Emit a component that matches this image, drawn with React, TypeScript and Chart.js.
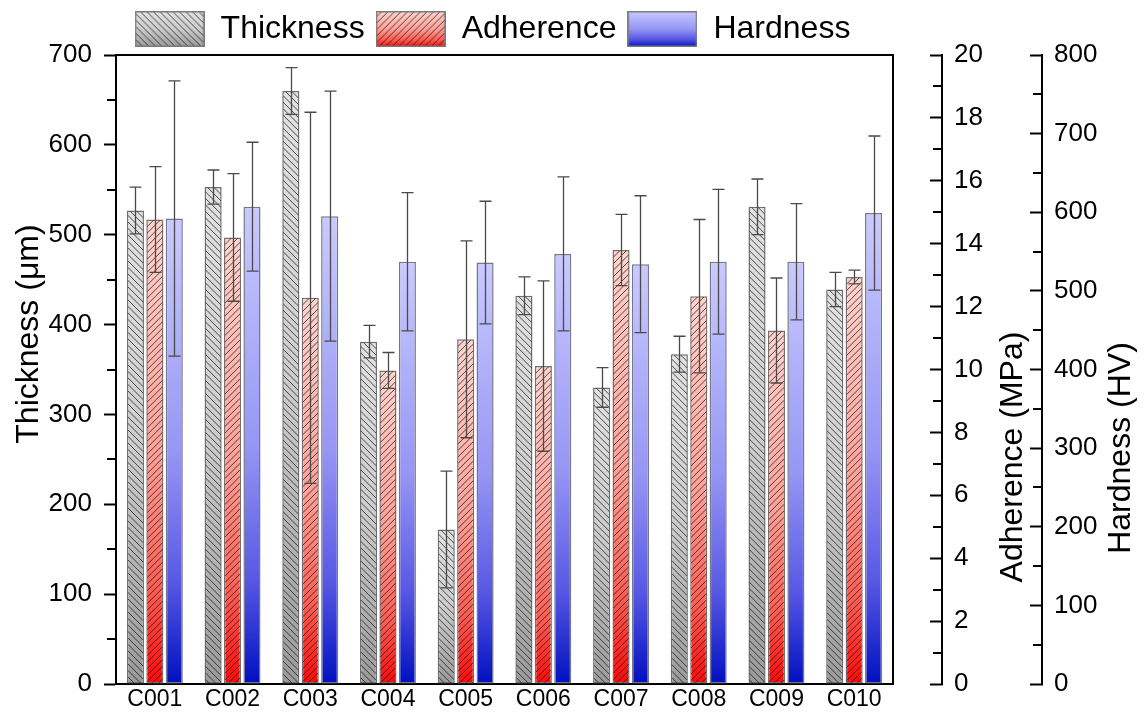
import React, { useEffect, useRef } from 'react';
import { Chart, registerables } from 'chart.js';

Chart.register(...registerables);

// ---------------- data ----------------
const categories = ['C001', 'C002', 'C003', 'C004', 'C005', 'C006', 'C007', 'C008', 'C009', 'C010'];
const thickness = [527, 553, 660, 381, 172, 432, 330, 367, 531, 439];
const thicknessErr = [26, 19, 26, 18, 65, 21, 22, 20, 31, 19];
const adherence = [14.77, 14.2, 12.28, 9.97, 10.96, 10.11, 13.8, 12.33, 11.24, 12.94];
const adherenceErr = [1.68, 2.03, 5.9, 0.57, 3.13, 2.71, 1.13, 2.44, 1.67, 0.22];
const hardness = [592, 607, 595, 537, 536, 547, 534, 537, 537, 599];
const hardnessErr = [175, 82, 159, 88, 78, 98, 87, 92, 74, 98];

const seriesLabels = ['Thickness', 'Adherence', 'Hardness'];
const axisTitles = ['Thickness (\u03bcm)', 'Adherence (MPa)', 'Hardness (HV)'];
const thicknessRange = [0, 700, 100];
const adherenceRange = [0, 20, 2];
const hardnessRange = [0, 800, 100];

// ---------------- styles ----------------
const FONT = "'Liberation Sans', Arial, sans-serif";
const grayStops: [number, string][] = [[0, '#e2e2e2'], [0.5, '#cdcdcd'], [1, '#9a9a9a']];
const redStops: [number, string][] = [[0, '#ffd4ce'], [0.5, '#ffa198'], [0.8, '#ff5c52'], [1, '#ff0808']];
const blueStops: [number, string][] = [[0, '#cacaff'], [0.5, '#9696f4'], [0.78, '#5858e4'], [1, '#0010c0']];

function hatch(ctx: CanvasRenderingContext2D, x0: number, y0: number, w: number, h: number, dir: number) {
  const sp = 6.5;
  ctx.save();
  ctx.beginPath();
  ctx.rect(x0, y0, w, h);
  ctx.clip();
  ctx.strokeStyle = 'rgba(25,25,25,0.85)';
  ctx.lineWidth = 0.9;
  ctx.beginPath();
  for (let k = -w - sp; k < h + sp; k += sp) {
    if (dir > 0) {
      ctx.moveTo(x0, y0 + k);
      ctx.lineTo(x0 + w, y0 + k + w);
    } else {
      ctx.moveTo(x0, y0 + k + w);
      ctx.lineTo(x0 + w, y0 + k);
    }
  }
  ctx.stroke();
  ctx.restore();
}

function swatch(stops: [number, string][], dir: number) {
  const c = document.createElement('canvas');
  c.width = 70;
  c.height = 36;
  const x = c.getContext('2d')!;
  const g = x.createLinearGradient(0, 0, 0, 36);
  stops.forEach(([o, col]) => g.addColorStop(o, col));
  x.fillStyle = g;
  x.fillRect(0, 0, 70, 36);
  if (dir) hatch(x, 0, 0, 70, 36, dir);
  x.strokeStyle = '#7a7a7a';
  x.lineWidth = 1.5;
  x.strokeRect(0.75, 0.75, 68.5, 34.5);
  return c;
}

const gradFill = (stops: [number, string][], axis: string) => (c: any) => {
  const chart = c.chart;
  if (c.type !== 'data' || !chart.chartArea) return stops[0][1];
  const sc = chart.scales[axis];
  const v = c.parsed ? c.parsed.y : c.raw;
  const top = sc.getPixelForValue(v);
  const base = sc.getPixelForValue(0);
  const g = chart.ctx.createLinearGradient(0, top, 0, base);
  stops.forEach(([o, col]) => g.addColorStop(o, col));
  return g;
};

const errors = [thicknessErr, adherenceErr, hardnessErr];
const hatchDirs = [1, -1, 0];

const barPlugin = {
  id: 'barExtras',
  afterLayout(chart: any) {
    if (chart.legend) {
      chart.legend.left -= 12;
      chart.legend.right -= 12;
    }
  },
  afterDatasetDraw(chart: any, args: any) {
    const i = args.index;
    const dir = hatchDirs[i];
    if (!dir) return;
    const ctx = chart.ctx;
    const meta = chart.getDatasetMeta(i);
    meta.data.forEach((el: any) => {
      const { x, y, base, width } = el.getProps(['x', 'y', 'base', 'width'], true);
      hatch(ctx, x - width / 2 + 0.75, y + 0.75, width - 1.5, base - y - 1.5, dir);
    });
  },
  afterDatasetsDraw(chart: any) {
    const ctx = chart.ctx;
    ctx.save();
    ctx.strokeStyle = '#4a4a4a';
    ctx.lineWidth = 1.3;
    chart.data.datasets.forEach((ds: any, i: number) => {
      const meta = chart.getDatasetMeta(i);
      const sc = chart.scales[ds.yAxisID];
      meta.data.forEach((el: any, j: number) => {
        const v = ds.data[j];
        const e = errors[i][j];
        const x = Math.round(el.x) + 0.5;
        const yt = sc.getPixelForValue(v + e);
        const yb = sc.getPixelForValue(v - e);
        ctx.beginPath();
        ctx.moveTo(x, yt);
        ctx.lineTo(x, yb);
        ctx.moveTo(x - 6, yt);
        ctx.lineTo(x + 6, yt);
        ctx.moveTo(x - 6, yb);
        ctx.lineTo(x + 6, yb);
        ctx.stroke();
      });
    });
    ctx.restore();
  },
  afterDraw(chart: any) {
    const ctx = chart.ctx;
    const a = chart.chartArea;
    ctx.save();
    // frame top & right
    ctx.strokeStyle = '#000';
    ctx.lineWidth = 2;
    ctx.beginPath();
    ctx.moveTo(a.left, a.top);
    ctx.lineTo(a.right, a.top);
    ctx.lineTo(a.right, a.bottom);
    ctx.stroke();
    // minor ticks
    const minor = (sc: any, step: number, x0: number) => {
      ctx.beginPath();
      for (let v = sc.min + step / 2; v < sc.max; v += step) {
        const y = Math.round(sc.getPixelForValue(v));
        ctx.moveTo(x0, y);
        ctx.lineTo(x0 - 9, y);
      }
      ctx.stroke();
    };
    minor(chart.scales.y, thicknessRange[2], a.left);
    minor(chart.scales.y1, adherenceRange[2], chart.scales.y1.left);
    minor(chart.scales.y2, hardnessRange[2], chart.scales.y2.left);
    // axis titles
    ctx.fillStyle = '#000';
    ctx.font = `32px ${FONT}`;
    ctx.textAlign = 'center';
    ctx.textBaseline = 'middle';
    const title = (t: string, x: number, y: number) => {
      ctx.save();
      ctx.translate(x, y);
      ctx.rotate(-Math.PI / 2);
      ctx.fillText(t, 0, 0);
      ctx.restore();
    };
    title(axisTitles[0], chart.scales.y.left + 29, 334);
    title(axisTitles[1], chart.scales.y1.left + 71, 457);
    title(axisTitles[2], chart.scales.y2.left + 79, 448);
    ctx.restore();
  },
};

export default function App() {
  const ref = useRef<HTMLCanvasElement>(null);
  useEffect(() => {
    document.body.style.margin = '0';
    const swatches = [swatch(grayStops, 1), swatch(redStops, -1), swatch(blueStops, 0)];
    const tickFont = { family: FONT, size: 26 };
    const noPad = (s: any) => {
      s.paddingTop = 0;
      s.paddingBottom = 0;
    };
    const rightAxis = (range: number[], weight: number) => ({
      type: 'linear',
      position: 'right',
      weight,
      min: range[0],
      max: range[1],
      afterFit: (s: any) => {
        s.width = weight === 1 ? 100 : 103;
        noPad(s);
      },
      grid: { display: true, drawOnChartArea: false, tickLength: -12, tickWidth: 2, tickColor: '#000' },
      border: { display: true, color: '#000', width: 2 },
      ticks: { stepSize: range[2], font: tickFont, color: '#000', padding: 24, autoSkip: false },
    });
    const chart = new Chart(ref.current!, {
      type: 'bar',
      data: {
        labels: categories,
        datasets: [
          {
            label: seriesLabels[0],
            data: thickness,
            yAxisID: 'y',
            backgroundColor: gradFill(grayStops, 'y'),
            borderColor: '#707070',
            borderWidth: 1.5,
            borderSkipped: false,
          },
          {
            label: seriesLabels[1],
            data: adherence,
            yAxisID: 'y1',
            backgroundColor: gradFill(redStops, 'y1'),
            borderColor: '#7a7070',
            borderWidth: 1.5,
            borderSkipped: false,
          },
          {
            label: seriesLabels[2],
            data: hardness,
            yAxisID: 'y2',
            backgroundColor: gradFill(blueStops, 'y2'),
            borderColor: '#777788',
            borderWidth: 1.5,
            borderSkipped: false,
          },
        ] as any,
      },
      options: {
        responsive: false,
        animation: false,
        devicePixelRatio: 1,
        layout: { padding: { top: 2, left: 0, right: 0, bottom: 0 } },
        datasets: { bar: { categoryPercentage: 0.75, barPercentage: 0.88 } } as any,
        plugins: {
          tooltip: { enabled: false },
          legend: {
            position: 'top',
            fullSize: false,
            labels: {
              usePointStyle: true,
              pointStyleWidth: 70,
              padding: 11,
              color: '#000',
              font: { family: FONT, size: 32 },
              generateLabels: () =>
                seriesLabels.map((t, i) => ({
                  text: t,
                  pointStyle: swatches[i] as any,
                  fillStyle: 'rgba(0,0,0,0)',
                  strokeStyle: 'rgba(0,0,0,0)',
                  lineWidth: 0,
                  hidden: false,
                  datasetIndex: i,
                  fontColor: '#000',
                })),
            },
          },
        },
        scales: {
          x: {
            type: 'category',
            afterFit: (s: any) => {
              s.height = 30;
            },
            grid: { display: false },
            border: { display: true, color: '#000', width: 2 },
            ticks: { font: { family: FONT, size: 23 }, color: '#000', padding: -6 },
          },
          y: {
            type: 'linear',
            position: 'left',
            min: thicknessRange[0],
            max: thicknessRange[1],
            afterFit: (s: any) => {
              s.width = 116;
              noPad(s);
            },
            grid: { display: true, drawOnChartArea: false, tickLength: 12, tickWidth: 2, tickColor: '#000' },
            border: { display: true, color: '#000', width: 2 },
            ticks: { stepSize: thicknessRange[2], font: tickFont, color: '#000', padding: 12, autoSkip: false },
          },
          spacer: {
            type: 'linear',
            position: 'right',
            weight: 0,
            afterFit: (s: any) => {
              s.width = 49;
              noPad(s);
            },
            grid: { display: false },
            border: { display: false },
            ticks: { display: false },
          },
          y1: rightAxis(adherenceRange, 1),
          y2: rightAxis(hardnessRange, 2),
        } as any,
      },
      plugins: [barPlugin],
    });
    return () => chart.destroy();
  }, []);
  return (
    <div style={{ width: 1145, height: 714 }}>
      <canvas ref={ref} width={1145} height={714} style={{ display: 'block' }} />
    </div>
  );
}
